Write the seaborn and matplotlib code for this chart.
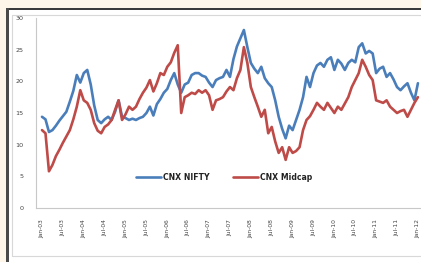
import numpy as np
import pandas as pd
import matplotlib
matplotlib.use("Agg")
import matplotlib.pyplot as plt
import seaborn as sns
from matplotlib.patches import Rectangle

# ---- data (monthly, Jan-03 .. Jan-12) ----
nifty = [14.4, 14.0, 12.0, 12.3, 13.0, 13.8, 14.5, 15.2, 16.8, 18.5,
         21.0, 19.8, 21.3, 21.8, 19.5, 16.2, 13.9, 13.4, 14.0, 14.4,
         13.9, 15.2, 17.0, 14.4, 14.2, 13.9, 14.1, 13.9, 14.2, 14.4,
         15.0, 16.0, 14.6, 16.4, 17.2, 18.2, 18.8, 20.2, 21.3, 19.5,
         18.2, 19.5, 19.8, 21.0, 21.3, 21.3, 20.9, 20.7, 19.8, 19.1,
         20.2, 20.5, 20.7, 21.8, 20.7, 23.5, 25.5, 26.8, 28.1, 25.4,
         22.9, 22.0, 21.3, 22.3, 20.5, 19.7, 19.1, 17.0, 14.4, 12.5,
         11.0, 13.0, 12.3, 13.9, 15.5, 17.5, 20.7, 19.1, 21.3, 22.5,
         22.9, 22.3, 23.4, 23.8, 21.8, 23.4, 22.8, 21.8, 22.9, 23.4,
         23.0, 25.4, 26.0, 24.4, 24.8, 24.4, 21.3, 22.0, 22.3, 20.7,
         21.3, 20.3, 19.1, 18.6, 19.2, 19.7, 18.2, 17.0, 19.7]
midcap = [12.3, 11.8, 5.8, 6.8, 8.2, 9.2, 10.3, 11.3, 12.3, 14.0,
          16.0, 18.6, 17.0, 16.6, 15.5, 13.4, 12.2, 11.8, 12.8, 13.2,
          13.9, 15.5, 17.0, 13.9, 14.8, 16.0, 15.5, 16.0, 17.2, 18.2,
          19.0, 20.2, 18.4, 19.7, 21.3, 21.0, 22.3, 23.0, 24.5, 25.7,
          15.0, 17.5, 17.8, 18.2, 18.0, 18.6, 18.2, 18.6, 17.8, 15.5,
          17.0, 17.2, 17.5, 18.4, 19.1, 18.6, 20.5, 21.8, 25.4, 22.9,
          19.1, 17.5, 16.0, 14.4, 15.5, 11.8, 12.8, 10.5, 8.7, 9.6,
          7.6, 9.6, 8.7, 9.0, 9.6, 12.3, 13.9, 14.5, 15.5, 16.6,
          16.0, 15.5, 16.6, 15.8, 15.0, 16.0, 15.5, 16.5, 17.5, 19.1,
          20.2, 21.3, 23.4, 22.3, 21.0, 20.2, 17.0, 16.8, 16.6, 17.0,
          16.0, 15.5, 15.0, 15.3, 15.5, 14.4, 15.5, 16.6, 17.5]
series_names = ["CNX NIFTY", "CNX Midcap"]
tick_labels = [f"{m}-{y:02d}" for y in range(3, 13) for m in ("Jan", "Jul")][:19]
y_ticks = [0, 5, 10, 15, 20, 25, 30]

months = np.arange(len(nifty))
df = pd.DataFrame({
    "month": np.concatenate([months, months]),
    "value": nifty + midcap,
    "series": [series_names[0]] * len(nifty) + [series_names[1]] * len(midcap),
})

sns.set_theme(style="white")
plt.rcParams["font.family"] = ["DejaVu Sans"]

W, H = 421, 262
fig = plt.figure(figsize=(W / 100, H / 100), dpi=100)
fig.patch.set_facecolor("#fdf6e9")

# white chart panel with dark shadow on top and left
fig.patches.append(Rectangle((9 / W, 0), 1, 1 - 9 / H, transform=fig.transFigure,
                             facecolor="white", edgecolor="none", zorder=-5))
fig.patches.append(Rectangle((7 / W, 1 - 10 / H), 1, 2.5 / H, transform=fig.transFigure,
                             facecolor="#3a3a3a", edgecolor="none", zorder=-4))
fig.patches.append(Rectangle((6 / W, 0), 3 / W, 1 - 8 / H, transform=fig.transFigure,
                             facecolor="#4a4a4a", edgecolor="none", zorder=-4))
fig.patches.append(Rectangle((12 / W, 6 / H), 1, 1 - 21 / H, transform=fig.transFigure,
                             facecolor="none", edgecolor="#d8d8d8", lw=0.8, zorder=-4))

ax = fig.add_axes([36 / W, 1 - 208 / H, (420 - 36) / W, (208 - 18) / H])
ax.set_zorder(2)
ax.patch.set_alpha(0)

sns.lineplot(data=df, x="month", y="value", hue="series",
             palette=["#4a7ebb", "#be4b48"], linewidth=1.9, ax=ax)

ax.set_xlim(-6 / 3.48, 108.6)
ax.set_ylim(0, 30)
ax.set_xticks(np.arange(0, 19 * 6, 6))
ax.set_xticklabels(tick_labels, rotation=90, fontsize=4.3, color="#444444")
ax.set_yticks(y_ticks)
ax.set_yticklabels([str(v) for v in y_ticks], fontsize=4.6, color="#444444")
ax.set_xlabel("")
ax.set_ylabel("")
for s in ("top", "right"):
    ax.spines[s].set_visible(False)
for s in ("left", "bottom"):
    ax.spines[s].set_color("#c8c8c8")
    ax.spines[s].set_linewidth(0.8)
ax.tick_params(axis="both", length=2, width=0.6, color="#c8c8c8", pad=6)
ax.tick_params(axis="y", pad=7)

leg = ax.legend(loc="center", bbox_to_anchor=(0.49, 0.163), ncol=2, frameon=False,
                fontsize=5.6, handlelength=3.2, columnspacing=3.0, handletextpad=0.3)
for t in leg.get_texts():
    t.set_color("#222222")
    t.set_fontweight("semibold")

fig.savefig("out.png", dpi=100, facecolor=fig.get_facecolor())
